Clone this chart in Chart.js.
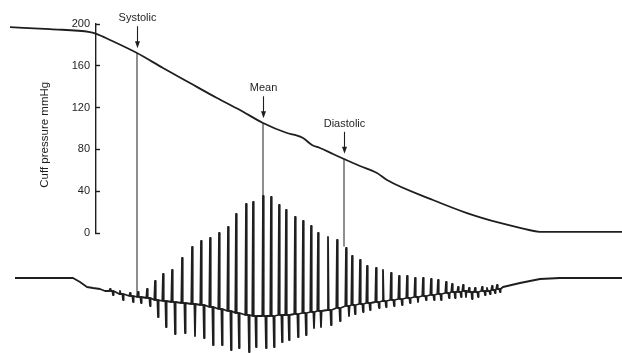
<!DOCTYPE html>
<html>
<head>
<meta charset="utf-8">
<script src="https://cdn.jsdelivr.net/npm/chart.js@4/dist/chart.umd.min.js"></script>
<style>
  html, body { margin: 0; padding: 0; background: #fff; }
  #wrap { width: 622px; height: 353px; }
</style>
</head>
<body>
<div id="wrap"><canvas id="c"></canvas></div>
<script>
// cuff pressure trace (time in samples, pressure in mmHg)
const cuffT = [10, 50, 90, 97, 110, 137, 163, 190, 217, 240, 263, 287, 295, 303, 312, 320, 333, 344, 360, 377, 387, 433, 467, 500, 517, 543, 622];
const cuffP = [197, 195, 192.3, 190.4, 184.7, 172.2, 157.9, 143.5, 129.2, 117.7, 105.3, 95.7, 93.8, 90.9, 84.2, 81.3, 75.6, 70.8, 64.1, 57.4, 50.7, 31.6, 19.1, 9.6, 5.7, 1, 1];
const pressureTicks = [0, 40, 80, 120, 160, 200];

// oscillation trace, arbitrary units (0 = resting baseline)
const leadT = [15, 73, 80, 87, 93, 100, 105];
const leadV = [0, 0, -4, -9, -10, -11, -13];
const beatT = [110, 120, 130, 138, 147, 155, 163, 172, 182, 192, 201, 210, 219, 228, 236, 246, 253, 263, 271, 279,
  286, 295, 303, 311, 318, 328, 337, 346, 352, 360, 367, 376, 383, 391, 399, 407, 415, 423, 431, 438,
  446, 452, 458, 463, 469, 475, 482, 487, 492, 497];
const beatTop = [-11, -13, -15, -14, -11, -3, 4, 8, 20, 31, 37, 40, 45, 51, 64, 74, 76, 82, 81, 73,
  68, 61, 57, 52, 45, 41, 38, 30, 22, 18, 12, 10, 8, 5, 2, 2, 0, 0, -1, -2,
  -4, -6, -9, -7, -10, -10, -9, -10, -8, -7];
const beatBottom = [-17, -22, -24, -25, -28, -39, -49, -56, -55, -58, -60, -67, -67, -72, -70, -74, -69, -70, -69, -64,
  -62, -59, -57, -50, -49, -47, -43, -38, -36, -34, -32, -30, -29, -28, -27, -25, -24, -22, -22, -22,
  -20, -20, -19, -19, -21, -19, -17, -16, -15, -14];
const beatBase = [-13, -16, -18, -19, -20, -22, -23, -24, -25, -26, -27, -29, -31, -33, -35, -37, -38, -38, -38, -37,
  -37, -36, -35, -34, -33, -32, -30, -28, -27, -26, -25, -24, -23, -22, -21, -20, -19, -18, -17, -16,
  -15, -14, -14, -13, -14, -14, -13, -13, -12, -11];
const tailT = [503, 520, 540, 560, 622];
const tailV = [-9, -5, -1, 0, 0];

// systolic / mean / diastolic markers
const markerNames = ['Systolic', 'Mean', 'Diastolic'];
const markerT = [137, 263, 344];
const markerCuff = [172, 105, 71];
const markerLow = [-62, -79, -13];

const ink = '#1e1e1e';
const font = '"Liberation Sans", Arial, sans-serif';

const wavePts = leadT.map((t, i) => ({x: t, y: leadV[i]}));
beatT.forEach((t, i) => {
  const b = beatBase[i];
  wavePts.push({x: t - 0.7, y: b}, {x: t, y: beatTop[i]}, {x: t + 0.7, y: b},
    {x: t + 2.4, y: b}, {x: t + 3, y: beatBottom[i]}, {x: t + 3.6, y: b});
});
tailT.forEach((t, i) => wavePts.push({x: t, y: tailV[i]}));

const datasets = [
  {
    data: cuffT.map((t, i) => ({x: t, y: cuffP[i]})),
    yAxisID: 'y', borderColor: ink, borderWidth: 1.8,
    pointRadius: 0, cubicInterpolationMode: 'monotone', clip: false
  },
  {
    data: wavePts, yAxisID: 'w', borderColor: ink, borderWidth: 1.8,
    pointRadius: 0, tension: 0, clip: false, borderJoinStyle: 'round'
  }
];
markerT.forEach((t, i) => {
  datasets.push({
    data: [{x: t, y: markerCuff[i]}, {x: t, y: markerLow[i]}],
    yAxisID: 'y', borderColor: '#333', borderWidth: 1.1, pointRadius: 0, clip: false
  });
});

const annotate = {
  id: 'annotate',
  afterDatasetsDraw(chart) {
    const {ctx, scales: {x, y}} = chart;
    ctx.save();
    ctx.fillStyle = ink;
    ctx.strokeStyle = ink;
    ctx.lineWidth = 1.1;
    ctx.font = '11px ' + font;
    ctx.textAlign = 'center';
    ctx.textBaseline = 'middle';
    markerT.forEach((t, i) => {
      const px = Math.round(x.getPixelForValue(t)) + 0.5;
      const py = y.getPixelForValue(markerCuff[i]);
      ctx.beginPath();
      ctx.moveTo(px, py - 27);
      ctx.lineTo(px, py - 10);
      ctx.stroke();
      ctx.beginPath();
      ctx.moveTo(px - 2.5, py - 12);
      ctx.lineTo(px + 2.5, py - 12);
      ctx.lineTo(px, py - 5);
      ctx.closePath();
      ctx.fill();
      ctx.fillText(markerNames[i], px, py - 35);
    });
    // axis title
    ctx.translate(x.getPixelForValue(45), y.getPixelForValue(94));
    ctx.rotate(-Math.PI / 2);
    ctx.font = '11.5px ' + font;
    ctx.fillText('Cuff pressure mmHg', 0, 0);
    ctx.restore();
  }
};

const tickOpts = {
  stepSize: 40, color: ink, font: {family: font, size: 11},
  callback: v => (pressureTicks.includes(v) ? v : null)
};

new Chart(document.getElementById('c'), {
  type: 'line',
  data: {datasets},
  options: {
    responsive: true,
    maintainAspectRatio: false,
    animation: false,
    layout: {padding: {top: 24, bottom: 120, left: 0, right: 0}},
    plugins: {legend: {display: false}, tooltip: {enabled: false}},
    scales: {
      x: {type: 'linear', min: 0, max: 622, display: false},
      w: {type: 'linear', min: 45, max: 254, display: false},
      // axis line with inward tick marks
      y: {
        type: 'linear', min: 0, max: 200,
        position: {x: 96},
        border: {color: ink, width: 1.4},
        grid: {drawOnChartArea: false, tickLength: -5, color: ink, tickWidth: 1.4},
        ticks: {...tickOpts, display: false}
      },
      // tick labels, set a little to the left of the axis line
      yLabels: {
        type: 'linear', axis: 'y', min: 0, max: 200,
        position: {x: 90},
        border: {display: false},
        grid: {display: false},
        ticks: tickOpts
      }
    }
  },
  plugins: [annotate]
});
</script>
</body>
</html>
